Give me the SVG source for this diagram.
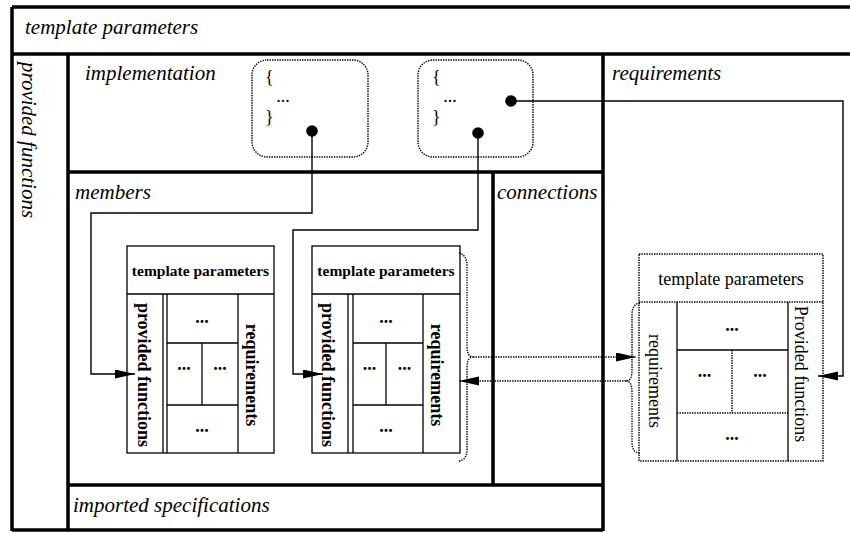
<svg xmlns="http://www.w3.org/2000/svg" width="850" height="533" viewBox="0 0 850 533">
<defs>
<style>
.thick{stroke:#000;stroke-width:3.5;fill:none}
.thin{stroke:#000;stroke-width:1.3;fill:none}
.dotl{stroke:#000;stroke-width:1.4;stroke-dasharray:1.4 1.1;fill:none}
.box{stroke:#000;stroke-width:1.3;fill:#fff}
.dbox{stroke:#000;stroke-width:1.4;stroke-dasharray:1.4 1.1;fill:#fff}
.lbl{font-family:"Liberation Serif",serif;font-style:italic;font-size:21px;fill:#000}
.bh{font-family:"Liberation Serif",serif;font-weight:bold;font-size:15.5px;fill:#000;text-anchor:middle}
.bv{font-family:"Liberation Serif",serif;font-weight:bold;font-size:18px;fill:#000;text-anchor:middle}
.rv{font-family:"Liberation Serif",serif;font-size:18px;fill:#000;text-anchor:middle}
.rh{font-family:"Liberation Serif",serif;font-size:18px;fill:#000}
.dots{font-family:"Liberation Serif",serif;font-weight:bold;font-size:18px;fill:#000;text-anchor:middle}
.rdots{font-family:"Liberation Serif",serif;font-size:18px;fill:#000;text-anchor:middle}
.conn{stroke:#000;stroke-width:1.4;fill:none}
</style>
<marker id="arr" markerUnits="userSpaceOnUse" markerWidth="21" markerHeight="10" refX="20" refY="4.5" orient="auto">
<path d="M0,0 L20,4.5 L0,9 z" fill="#000"/>
</marker>
</defs>
<rect width="850" height="533" fill="#fff"/>

<g id="frame">
<line class="thick" x1="12" y1="7" x2="850" y2="7"/>
<line class="thick" x1="12" y1="54" x2="850" y2="54"/>
<line class="thick" x1="12" y1="7" x2="12" y2="531"/>
<line class="thick" x1="68" y1="54" x2="68" y2="531"/>
<line class="thick" x1="603" y1="54" x2="603" y2="531"/>
<line class="thick" x1="68" y1="172" x2="603" y2="172"/>
<line class="thick" x1="493" y1="172" x2="493" y2="485"/>
<line class="thick" x1="68" y1="485" x2="603" y2="485"/>
<line class="thick" x1="12" y1="530" x2="603" y2="530"/>
</g>

<g id="template-parameters"><text class="lbl" x="25" y="34">template parameters</text></g>
<g id="provided-functions"><text class="lbl" transform="translate(22,62) rotate(90)">provided functions</text></g>
<g id="implementation"><text class="lbl" x="85" y="80">implementation</text></g>
<g id="requirements"><text class="lbl" x="612" y="80">requirements</text></g>
<g id="members"><text class="lbl" x="75" y="199">members</text></g>
<g id="connections"><text class="lbl" x="497" y="199">connections</text></g>
<g id="imported-specifications"><text class="lbl" x="73" y="512">imported specifications</text></g>

<g id="impl-block-1">
<rect class="dbox" x="252" y="60" width="116" height="97" rx="15"/>
<text class="rh" x="265" y="83">{</text>
<text class="rdots" x="283" y="102">...</text>
<text class="rh" x="265" y="123">}</text>
</g>
<g id="impl-block-2">
<rect class="dbox" x="418" y="60" width="115" height="97" rx="15"/>
<text class="rh" x="432" y="83">{</text>
<text class="rdots" x="450" y="102">...</text>
<text class="rh" x="432" y="123">}</text>
</g>

<g id="member-1">
<rect class="box" x="127" y="246" width="147" height="207"/>
<line class="thin" x1="127" y1="294" x2="274" y2="294"/>
<line class="thin" x1="163" y1="294" x2="163" y2="453"/>
<line class="thin" x1="167" y1="294" x2="167" y2="453"/>
<line class="thin" x1="238" y1="294" x2="238" y2="453"/>
<line class="thin" x1="167" y1="343" x2="238" y2="343"/>
<line class="thin" x1="167" y1="405" x2="238" y2="405"/>
<line class="thin" x1="202" y1="343" x2="202" y2="405"/>
<text class="bh" x="200.5" y="276">template parameters</text>
<text class="bv" transform="translate(138,375) rotate(90)">provided functions</text>
<text class="bv" transform="translate(246,375) rotate(90)">requirements</text>
<text class="dots" x="202" y="323">...</text>
<text class="dots" x="184" y="370">...</text>
<text class="dots" x="220" y="370">...</text>
<text class="dots" x="202" y="432">...</text>
</g>

<g id="member-2">
<rect class="box" x="312" y="246" width="148" height="207"/>
<line class="thin" x1="312" y1="294" x2="460" y2="294"/>
<line class="thin" x1="348" y1="294" x2="348" y2="453"/>
<line class="thin" x1="353" y1="294" x2="353" y2="453"/>
<line class="thin" x1="423" y1="294" x2="423" y2="453"/>
<line class="thin" x1="353" y1="343" x2="423" y2="343"/>
<line class="thin" x1="353" y1="405" x2="423" y2="405"/>
<line class="thin" x1="386" y1="343" x2="386" y2="405"/>
<text class="bh" x="386" y="276">template parameters</text>
<text class="bv" transform="translate(322,375) rotate(90)">provided functions</text>
<text class="bv" transform="translate(431,375) rotate(90)">requirements</text>
<text class="dots" x="386" y="323">...</text>
<text class="dots" x="369.5" y="370">...</text>
<text class="dots" x="404.5" y="370">...</text>
<text class="dots" x="386" y="432">...</text>
<path class="dotl" d="M459,253 Q467,255 467,266 L467,346 Q467,357 473,357 Q467,357 467,368 L467,449 Q467,460 459,461"/>
</g>

<g id="required-component">
<rect class="dbox" x="639" y="254" width="184" height="207"/>
<line class="dotl" x1="639" y1="302" x2="823" y2="302"/>
<line class="thin" x1="677" y1="302" x2="677" y2="461"/>
<line class="thin" x1="788" y1="302" x2="788" y2="461"/>
<line class="thin" x1="677" y1="350" x2="788" y2="350"/>
<line class="dotl" x1="732" y1="350" x2="732" y2="413"/>
<line class="dotl" x1="677" y1="413" x2="788" y2="413"/>
<text class="rv" x="731" y="285">template parameters</text>
<text class="rv" transform="translate(649,381) rotate(90)">requirements</text>
<text class="rv" transform="translate(795,374) rotate(90)">Provided functions</text>
<text class="dots" x="732" y="331">...</text>
<text class="dots" x="704.5" y="377">...</text>
<text class="dots" x="760" y="377">...</text>
<text class="dots" x="732" y="440">...</text>
<path class="dotl" d="M640,303 Q632,304 632,315 L632,370 Q632,381 626,381 Q632,381 632,392 L632,442 Q632,453 640,453"/>
</g>

<g id="connectors">
<path class="conn" d="M312,131 L312,213 L91,213 L91,374 L135,374" marker-end="url(#arr)"/>
<path class="conn" d="M478,133 L478,230 L293,230 L293,374 L323,374" marker-end="url(#arr)"/>
<path class="conn" d="M511,101 L843,101 L843,376 L818,376" marker-end="url(#arr)"/>
<path class="dotl" d="M473,357 L636,357" marker-end="url(#arr)"/>
<path class="dotl" d="M626,381 L459,381" marker-end="url(#arr)"/>
<circle cx="312" cy="131" r="5.8" fill="#000"/>
<circle cx="478" cy="133" r="5.8" fill="#000"/>
<circle cx="511" cy="101" r="5.8" fill="#000"/>
</g>
</svg>
